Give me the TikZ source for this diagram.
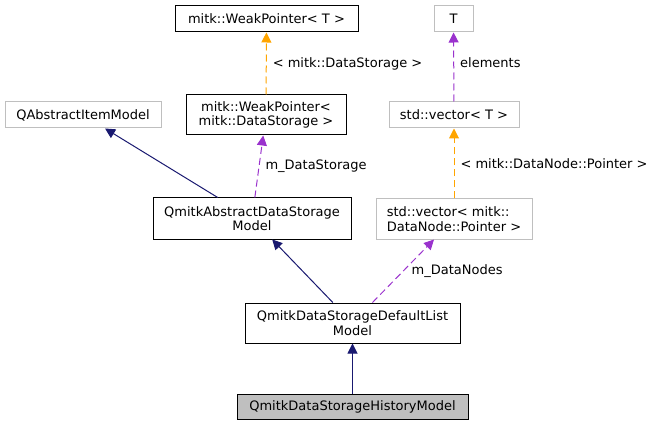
\documentclass[tikz,border=0pt]{standalone}
\usepackage{fontspec}
\setmainfont{DejaVu Sans}
\usepackage{tikz}
\usetikzlibrary{arrows.meta,positioning}
\definecolor{navyline}{HTML}{191970}
\definecolor{orchidline}{HTML}{9A32CD}
\definecolor{orangeline}{HTML}{FFA500}
\definecolor{greybox}{HTML}{BFBFBF}

\begin{document}
\begin{tikzpicture}[
  x=1pt, y=-1pt,
  every node/.style={font=\fontsize{13}{14.5}\selectfont},
  cls/.style={draw=black, line width=1pt, inner sep=2pt, align=center},
  ext/.style={draw=greybox, line width=1pt, inner sep=2pt, align=center},
  cur/.style={cls, fill=greybox},
  inh/.style={-{Triangle[length=10pt,width=10pt]}, navyline, line width=1pt},
  use/.style={-{Triangle[length=10pt,width=10pt]}, orchidline, line width=1pt, dash pattern=on 7pt off 4pt},
  tpl/.style={-{Triangle[length=10pt,width=10pt]}, orangeline, line width=1pt, dash pattern=on 7pt off 4pt},
  lbl/.style={anchor=west, inner sep=0pt, xshift=6pt, text=black}
]
\useasboundingbox (0,0) rectangle (651,425);

% --- Fila superior ---
\node[cls, minimum width=183pt, minimum height=26pt] (wpT) at (266.5,19) {mitk::WeakPointer< T >};
\node[ext, minimum width=39pt, minimum height=26pt]  (tT)  at (453.5,19) {T};

% --- Segunda fila ---
\node[ext, minimum width=156pt, minimum height=26pt] (qaim) at (83,115) {QAbstractItemModel};
\node[cls, minimum width=160pt, minimum height=40pt] (wpDS) at (266,115) {mitk::WeakPointer<\\ mitk::DataStorage >};
\node[ext, minimum width=130pt, minimum height=26pt] (vecT) at (454,115) {std::vector< T >};

% --- Tercera fila ---
\node[cls, minimum width=198pt, minimum height=41pt] (qadsm) at (252,218.5) {QmitkAbstractDataStorage\\Model};
\node[ext, minimum width=156pt, minimum height=40pt, align=left] (vecDN) at (454,219) {std::vector< mitk::\\DataNode::Pointer >};

% --- Clases inferiores ---
\node[cls, minimum width=215pt, minimum height=40pt] (qdsdl) at (352.5,323) {QmitkDataStorageDefaultList\\Model};
\node[cur, minimum width=231pt, minimum height=25pt] (qdshm) at (352.5,406.5) {QmitkDataStorageHistoryModel};

% Herencia
\draw[inh] (qdshm) -- (qdsdl);
\draw[inh] (qdsdl) -- (qadsm);
\draw[inh] (qadsm) -- (qaim);

% Miembros
\draw[use] (qadsm) -- (wpDS) node[lbl, pos=0.5] (lblDS) {m\_DataStorage};
\draw[use] (qdsdl) -- (vecDN) node[lbl, pos=0.5, xshift=2pt] (lblDN) {m\_DataNodes};
\draw[use] (vecT) -- (tT) node[lbl, pos=0.57] (lblEl) {elements};

% Plantillas
\draw[tpl] (wpDS) -- (wpT) node[lbl, pos=0.5] (lblWP) {< mitk::DataStorage >};
\draw[tpl] (vecDN) -- (vecT) node[lbl, pos=0.5] (lblVec) {< mitk::DataNode::Pointer >};
\end{tikzpicture}
\end{document}
